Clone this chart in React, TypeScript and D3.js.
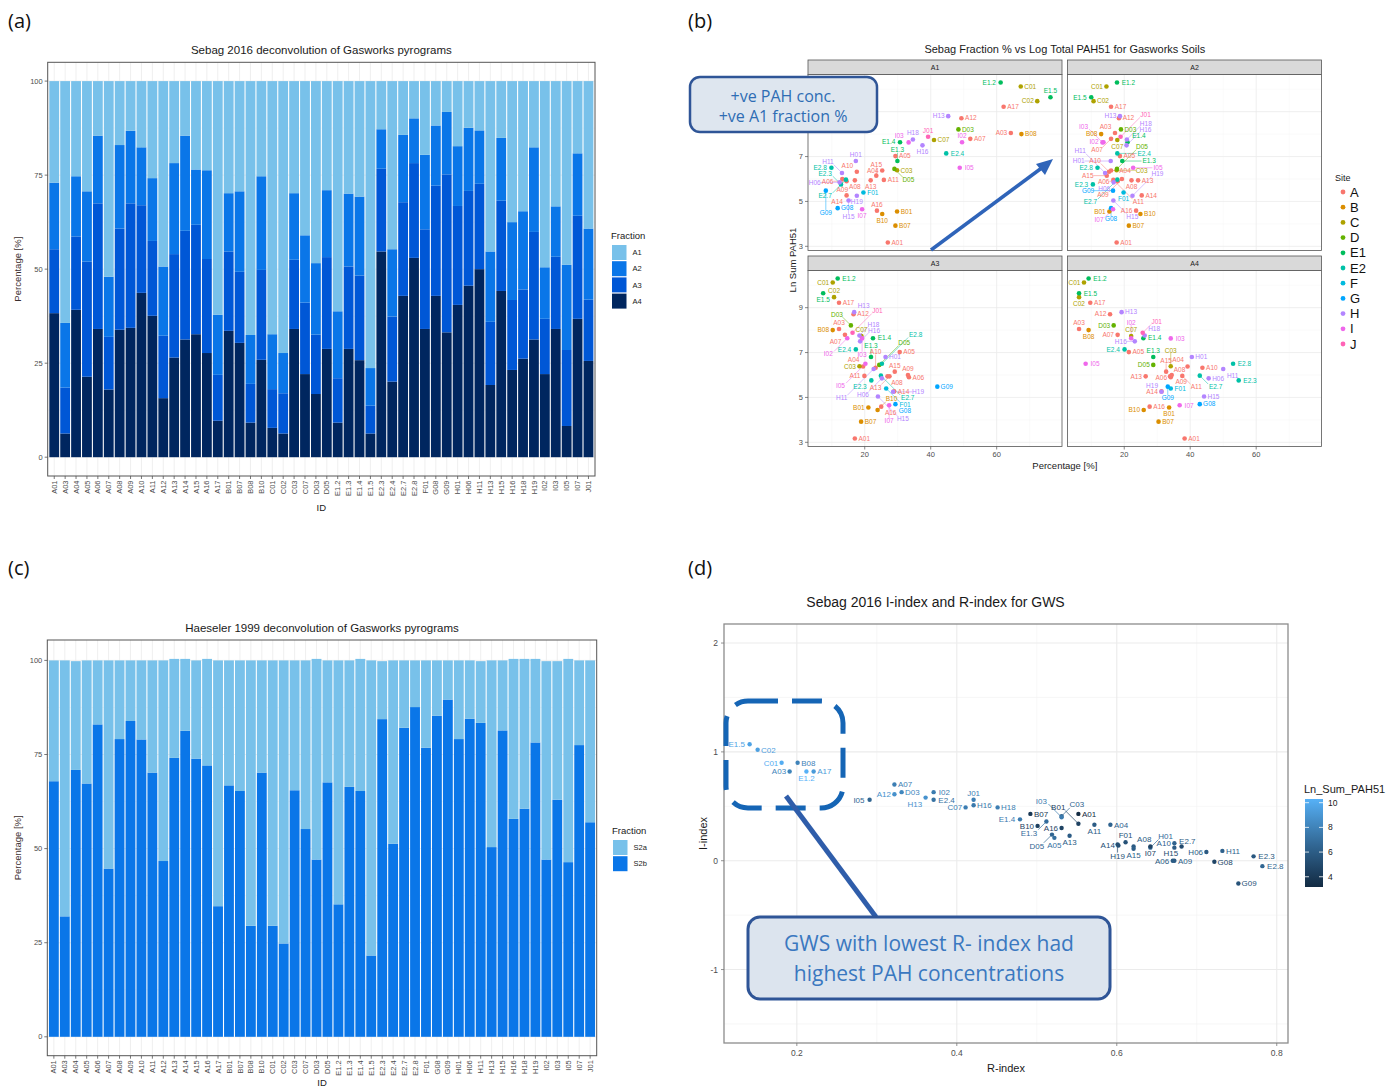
import React from 'react';
import * as d3 from 'd3';

// Sample IDs (shared by all four panels)
const ids = ['A01', 'A03', 'A04', 'A05', 'A06', 'A07', 'A08', 'A09', 'A10', 'A11', 'A12', 'A13', 'A14', 'A15', 'A16', 'A17',
  'B01', 'B07', 'B08', 'B10', 'C01', 'C02', 'C03', 'C07', 'D03', 'D05', 'E1.2', 'E1.3', 'E1.4', 'E1.5', 'E2.3', 'E2.4', 'E2.7', 'E2.8',
  'F01', 'G08', 'G09', 'H01', 'H06', 'H11', 'H13', 'H15', 'H16', 'H18', 'H19', 'I02', 'I03', 'I05', 'I07', 'J01'];

// Sebag 2016 fractions [%]
const fracA1 = [27.0, 64.3, 25.3, 29.3, 14.5, 52.0, 17.0, 13.2, 17.6, 25.8, 49.3, 21.8, 14.5, 23.5, 23.7, 62.1,
  29.8, 29.3, 67.5, 25.3, 67.3, 72.3, 29.8, 41.0, 48.4, 29.0, 61.2, 29.9, 30.7, 76.3, 12.8, 44.7, 14.3, 9.9,
  19.6, 11.8, 8.2, 17.3, 12.4, 13.1, 45.3, 15.1, 37.5, 34.6, 17.6, 49.5, 33.3, 48.8, 19.2, 39.2];
const fracA2 = [17.7, 17.2, 16.0, 18.7, 18.0, 16.0, 22.2, 19.3, 15.4, 16.7, 18.4, 24.2, 25.3, 14.7, 23.6, 16.0,
  15.5, 21.4, 13.0, 24.9, 14.6, 10.7, 17.7, 17.9, 19.0, 17.8, 17.8, 19.4, 21.0, 10.0, 10.5, 17.9, 17.9, 11.9,
  19.8, 16.0, 16.6, 15.9, 16.8, 14.2, 18.7, 16.7, 20.7, 20.8, 22.5, 13.7, 13.4, 22.7, 16.6, 18.9];
const fracA3 = [17.0, 12.2, 19.5, 30.6, 33.4, 14.0, 26.9, 33.1, 23.3, 19.9, 16.6, 27.5, 28.9, 29.1, 25.0, 12.2,
  21.1, 18.9, 10.3, 23.9, 10.3, 10.7, 18.4, 19.0, 15.8, 24.4, 11.8, 21.9, 22.5, 7.4, 22.0, 17.3, 24.9, 25.2,
  26.5, 29.3, 42.0, 26.3, 25.2, 22.7, 16.8, 24.0, 18.6, 18.4, 28.6, 14.7, 19.2, 20.2, 27.4, 16.3];
const fracA4 = [38.3, 6.3, 39.2, 21.4, 34.1, 18.0, 33.9, 34.4, 43.7, 37.6, 15.7, 26.5, 31.3, 32.7, 27.7, 9.7,
  33.6, 30.4, 9.2, 25.9, 7.8, 6.3, 34.1, 22.1, 16.8, 28.8, 9.2, 28.8, 25.8, 6.3, 54.7, 20.1, 42.9, 53.0,
  34.1, 42.9, 33.2, 40.5, 45.6, 50.0, 19.2, 44.2, 23.2, 26.2, 31.3, 22.1, 34.1, 8.3, 36.8, 25.6];

// Haeseler 1999 fractions [%]
const fracS2a = [32.1, 68.0, 28.9, 32.7, 17.0, 55.3, 20.9, 16.1, 21.0, 29.8, 53.3, 26.3, 19.1, 26.1, 28.3, 65.3,
  33.2, 34.7, 70.5, 29.8, 70.5, 75.2, 34.5, 44.8, 53.3, 32.4, 64.8, 33.6, 35.1, 78.4, 15.4, 48.7, 17.9, 12.4,
  23.2, 14.7, 10.4, 20.9, 15.5, 16.4, 49.6, 18.6, 42.5, 39.8, 22.2, 52.7, 36.8, 54.0, 22.5, 43.0];
const fracS2b = [67.9, 32.0, 70.9, 67.3, 83.0, 44.7, 79.1, 83.9, 79.0, 70.2, 46.7, 74.1, 81.3, 73.9, 72.1, 34.7,
  66.8, 65.3, 29.5, 70.2, 29.5, 24.8, 65.5, 55.2, 47.1, 67.6, 35.2, 66.4, 65.3, 21.6, 84.4, 51.3, 82.1, 87.6,
  76.8, 85.3, 89.6, 79.1, 84.5, 83.4, 50.4, 81.4, 57.9, 60.6, 78.2, 47.1, 63.0, 46.4, 77.5, 57.0];

// Ln of total PAH51
const lnSumPAH51 = [3.17, 8.05, 6.38, 7.02, 5.90, 7.79, 5.94, 6.00, 6.32, 5.96, 8.71, 5.94, 5.27, 6.15, 4.59, 9.22,
  4.55, 3.92, 8.00, 4.44, 10.12, 9.47, 6.39, 7.74, 8.21, 6.45, 10.30, 6.80, 7.64, 9.64, 5.76, 7.14, 5.97, 6.50,
  5.40, 4.70, 5.48, 6.80, 5.85, 6.27, 8.80, 5.04, 7.50, 7.76, 5.25, 7.64, 7.63, 6.50, 4.65, 7.88];

// Sebag 2016 R-index and I-index
const rIndex = [0.552, 0.191, 0.592, 0.522, 0.670, 0.322, 0.621, 0.672, 0.672, 0.572, 0.322, 0.541, 0.602, 0.621, 0.531, 0.221,
  0.552, 0.492, 0.201, 0.501, 0.181, 0.151, 0.531, 0.411, 0.331, 0.519, 0.212, 0.512, 0.479, 0.141, 0.771, 0.371, 0.672, 0.782,
  0.611, 0.722, 0.752, 0.642, 0.712, 0.732, 0.361, 0.681, 0.421, 0.451, 0.601, 0.371, 0.531, 0.291, 0.642, 0.421];
const iIndex = [0.43, 0.82, 0.33, 0.21, 0.0, 0.70, 0.13, 0.0, 0.16, 0.33, 0.61, 0.23, 0.14, 0.11, 0.30, 0.82,
  0.34, 0.43, 0.90, 0.32, 0.90, 1.02, 0.41, 0.49, 0.63, 0.24, 0.82, 0.36, 0.38, 1.07, 0.04, 0.56, 0.12, -0.05,
  0.17, -0.01, -0.21, 0.12, 0.08, 0.09, 0.58, 0.13, 0.51, 0.49, 0.15, 0.63, 0.40, 0.56, 0.13, 0.56];
const iLimits = [-1.5, 2];

const sebagKeys = ['A1', 'A2', 'A3', 'A4'];
const haeselerKeys = ['S2a', 'S2b'];
const sites = ['A', 'B', 'C', 'D', 'E1', 'E2', 'F', 'G', 'H', 'I', 'J'];
const pctTicks = [0, 25, 50, 75, 100];

const sebagColors = ['#78C1EA', '#0A76E8', '#0057D6', '#00265F'];
const haeselerColors = ['#78C1EA', '#0A76E8'];
const siteColors = ['#F8766D', '#DB8E00', '#AEA200', '#64B200', '#00BD5C', '#00C1A7', '#00BADE', '#00A6FF', '#B385FF', '#EF67EB', '#FF63B6'];

const FONT = '"Liberation Sans", Arial, sans-serif';
const CALLOUT = '"Open Sans", "Noto Sans", sans-serif';
const siteOf = (id: string) => (id.startsWith('E') ? id.slice(0, 2) : id[0]);
const siteColor = d3.scaleOrdinal<string, string>().domain(sites).range(siteColors);

type Box = { x0: number; y0: number; x1: number; y1: number };
type Pt = { x: number; y: number; text: string; color: string };

// crude ggrepel: try spots round each point, keep the first free one
function repel(pts: Pt[], fs: number, b: Box, pr: number, keepAll: boolean) {
  const h = fs * 0.8;
  const taken: number[][] = [];
  const out: any[] = [];
  const dirs = [[1, 0], [-1, 0], [0, -1], [0, 1], [1, -1], [1, 1], [-1, -1], [-1, 1]];
  const dists = [1.5, 6, 11, 17, 24];
  pts.forEach((p) => {
    const w = p.text.length * fs * 0.58;
    let best: number[] | null = null;
    let bestD = 0;
    for (const dist of dists) {
      for (const [dx, dy] of dirs) {
        const cx = p.x + dx * (pr + dist + w / 2);
        const cy = p.y + dy * (pr + dist + h / 2);
        const bx = [cx - w / 2, cy - h / 2, cx + w / 2, cy + h / 2];
        if (bx[0] < b.x0 || bx[2] > b.x1 || bx[1] < b.y0 || bx[3] > b.y1) continue;
        if (taken.some((t) => bx[0] < t[2] + 0.5 && bx[2] > t[0] - 0.5 && bx[1] < t[3] + 0.5 && bx[3] > t[1] - 0.5)) continue;
        if (pts.some((q) => q.x + pr > bx[0] && q.x - pr < bx[2] && q.y + pr > bx[1] && q.y - pr < bx[3])) continue;
        best = bx;
        bestD = dist;
        break;
      }
      if (best) break;
    }
    if (!best && keepAll) {
      best = [p.x + pr + 1.5, p.y - h / 2, p.x + pr + 1.5 + w, p.y + h / 2];
    }
    if (!best) return;
    taken.push(best);
    const lx = Math.max(best[0], Math.min(p.x, best[2]));
    const ly = Math.max(best[1], Math.min(p.y, best[3]));
    out.push({ ...p, cx: (best[0] + best[2]) / 2, cy: (best[1] + best[3]) / 2, lead: bestD >= 6, lx, ly });
  });
  return out;
}

function BarPanel({ box, title, keys, values, colors, legend, idY }: any) {
  const rows = ids.map((id, i) => {
    const r: any = { id };
    keys.forEach((k: string, j: number) => (r[k] = values[j][i]));
    return r;
  });
  const maxTotal = d3.max(rows, (r: any) => d3.sum(keys, (k: string) => r[k])) as number;
  const y = d3.scaleLinear().domain([-0.05 * maxTotal, 1.05 * maxTotal]).range([box.y1, box.y0]);
  const x = d3.scalePoint<string>().domain(ids).range([box.x0, box.x1]).padding(0.6);
  const bw = x.step() * 0.9;
  const color = d3.scaleOrdinal<string, string>().domain(keys).range(colors);
  const stacked = d3.stack<any>().keys([...keys].reverse())(rows);
  const minor = pctTicks.slice(1).map((t) => t - 12.5);

  return (
    <g fontFamily={FONT}>
      <text x={(box.x0 + box.x1) / 2} y={box.y0 - 8} textAnchor="middle" fontSize={11.5} fill="#1a1a1a">{title}</text>
      <rect x={box.x0} y={box.y0} width={box.x1 - box.x0} height={box.y1 - box.y0} fill="#fff" />
      {minor.map((t) => (
        <line key={'m' + t} x1={box.x0} x2={box.x1} y1={y(t)} y2={y(t)} stroke="#F2F2F2" strokeWidth={0.5} />
      ))}
      {pctTicks.map((t) => (
        <line key={'g' + t} x1={box.x0} x2={box.x1} y1={y(t)} y2={y(t)} stroke="#EBEBEB" strokeWidth={0.8} />
      ))}
      {ids.map((id) => (
        <line key={'v' + id} x1={x(id)} x2={x(id)} y1={box.y0} y2={box.y1} stroke="#EBEBEB" strokeWidth={0.8} />
      ))}
      {stacked.map((s) => (
        <g key={s.key} fill={color(s.key)}>
          {s.map((d: any) => (
            <rect key={d.data.id} x={(x(d.data.id) as number) - bw / 2} width={bw} y={y(d[1])} height={y(d[0]) - y(d[1])} />
          ))}
        </g>
      ))}
      <rect x={box.x0} y={box.y0} width={box.x1 - box.x0} height={box.y1 - box.y0} fill="none" stroke="#555" strokeWidth={1} />
      {pctTicks.map((t) => (
        <g key={'t' + t}>
          <line x1={box.x0 - 3} x2={box.x0} y1={y(t)} y2={y(t)} stroke="#555" strokeWidth={0.8} />
          <text x={box.x0 - 5} y={y(t)} dy="0.35em" textAnchor="end" fontSize={7.5} fill="#4D4D4D">{t}</text>
        </g>
      ))}
      {ids.map((id) => (
        <g key={'x' + id}>
          <line x1={x(id)} x2={x(id)} y1={box.y1} y2={box.y1 + 3} stroke="#555" strokeWidth={0.8} />
          <text transform={`translate(${x(id)},${box.y1 + 4.5}) rotate(-90)`} dy="0.35em" textAnchor="end" fontSize={7.5} fill="#4D4D4D">{id}</text>
        </g>
      ))}
      <text x={(box.x0 + box.x1) / 2} y={idY} textAnchor="middle" fontSize={9.5} fill="#1a1a1a">ID</text>
      <text transform={`translate(21,${(box.y0 + box.y1) / 2}) rotate(-90)`} textAnchor="middle" fontSize={9.5} fill="#3a2e2e">Percentage [%]</text>
      <text x={legend.x - 1} y={legend.y} fontSize={9.5} fill="#1a1a1a">Fraction</text>
      {keys.map((k: string, i: number) => (
        <g key={'l' + k}>
          <rect x={legend.x} y={legend.y + 6 + i * 16.2} width={14.5} height={15} fill={color(k)} />
          <text x={legend.x + 20.5} y={legend.y + 13.5 + i * 16.2} dy="0.35em" fontSize={7.5} fill="#1a1a1a">{k}</text>
        </g>
      ))}
    </g>
  );
}

function FacetPanel() {
  const fracs = [fracA1, fracA2, fracA3, fracA4];
  const [xmin, xmax] = d3.extent(fracs.flat()) as [number, number];
  const xDom = [xmin - 0.05 * (xmax - xmin), xmax + 0.05 * (xmax - xmin)];
  const [ymin, ymax] = d3.extent(lnSumPAH51) as [number, number];
  const yDom = [ymin - 0.05 * (ymax - ymin), ymax + 0.05 * (ymax - ymin)];
  const xMajor = [20, 40, 60];
  const xMinor = [10, 30, 50, 70];
  const yMajor = [3, 5, 7, 9];
  const yMinor = [4, 6, 8, 10];

  return (
    <g fontFamily={FONT}>
      <text x={1064.8} y={53} textAnchor="middle" fontSize={11} fill="#1a1a1a">Sebag Fraction % vs Log Total PAH51 for Gasworks Soils</text>
      {sebagKeys.map((f, fi) => {
        const col = fi % 2;
        const row = Math.floor(fi / 2);
        const px0 = 808 + col * 259.5;
        const px1 = px0 + 254;
        const sy0 = 60 + row * 196;
        const py0 = sy0 + 14.5;
        const py1 = py0 + 176;
        const x = d3.scaleLinear().domain(xDom).range([px0, px1]);
        const y = d3.scaleLinear().domain(yDom).range([py1, py0]);
        const pts: Pt[] = ids.map((id, i) => ({ x: x(fracs[fi][i]), y: y(lnSumPAH51[i]), text: id, color: siteColor(siteOf(id)) }));
        const labels = repel(pts, 6.5, { x0: px0 + 1, y0: py0 + 1, x1: px1 - 1, y1: py1 - 1 }, 2.3, false);
        // the top-left tick label sits under the callout box in the original
        const yLabelTicks = row === 0 ? yMajor.filter((t) => y(t) > 136) : yMajor;
        return (
          <g key={f}>
            <rect x={px0} y={py0} width={254} height={176} fill="#fff" />
            {xMinor.map((t) => <line key={'xm' + t} x1={x(t)} x2={x(t)} y1={py0} y2={py1} stroke="#F4F4F4" strokeWidth={0.5} />)}
            {yMinor.filter((t) => t < yDom[1]).map((t) => <line key={'ym' + t} x1={px0} x2={px1} y1={y(t)} y2={y(t)} stroke="#F4F4F4" strokeWidth={0.5} />)}
            {xMajor.map((t) => <line key={'xg' + t} x1={x(t)} x2={x(t)} y1={py0} y2={py1} stroke="#EBEBEB" strokeWidth={0.8} />)}
            {yMajor.map((t) => <line key={'yg' + t} x1={px0} x2={px1} y1={y(t)} y2={y(t)} stroke="#EBEBEB" strokeWidth={0.8} />)}
            {labels.filter((l) => l.lead).map((l) => (
              <line key={'ld' + l.text} x1={l.x} y1={l.y} x2={l.lx} y2={l.ly} stroke={l.color} strokeWidth={0.5} />
            ))}
            {pts.map((p) => <circle key={p.text} cx={p.x} cy={p.y} r={2.3} fill={p.color} />)}
            {labels.map((l) => (
              <text key={'lb' + l.text} x={l.cx} y={l.cy} dy="0.35em" textAnchor="middle" fontSize={6.5} fill={l.color}>{l.text}</text>
            ))}
            <rect x={px0} y={py0} width={254} height={176} fill="none" stroke="#555" strokeWidth={0.8} />
            <rect x={px0} y={sy0} width={254} height={14.5} fill="#D9D9D9" stroke="#555" strokeWidth={0.8} />
            <text x={(px0 + px1) / 2} y={sy0 + 7.5} dy="0.35em" textAnchor="middle" fontSize={7} fill="#1a1a1a">{f}</text>
            {col === 0 && yMajor.map((t) => (
              <line key={'ytm' + t} x1={px0 - 3} x2={px0} y1={y(t)} y2={y(t)} stroke="#555" strokeWidth={0.7} />
            ))}
            {col === 0 && yLabelTicks.map((t) => (
              <text key={'yt' + t} x={px0 - 5} y={y(t)} dy="0.35em" textAnchor="end" fontSize={7.5} fill="#4D4D4D">{t}</text>
            ))}
            {row === 1 && xMajor.map((t) => (
              <g key={'xt' + t}>
                <line x1={x(t)} x2={x(t)} y1={py1} y2={py1 + 3} stroke="#555" strokeWidth={0.7} />
                <text x={x(t)} y={py1 + 10} textAnchor="middle" fontSize={7.5} fill="#4D4D4D">{t}</text>
              </g>
            ))}
          </g>
        );
      })}
      <text x={1064.8} y={469} textAnchor="middle" fontSize={9.5} fill="#1a1a1a">Percentage [%]</text>
      <text transform="translate(796,260) rotate(-90)" textAnchor="middle" fontSize={9.5} fill="#1a1a1a">Ln Sum PAH51</text>
      <text x={1335} y={181} fontSize={9} fill="#1a1a1a">Site</text>
      {sites.map((s, i) => (
        <g key={'s' + s}>
          <circle cx={1343} cy={192 + i * 15.2} r={2.4} fill={siteColor(s)} />
          <text x={1350} y={192 + i * 15.2} dy="0.36em" fontSize={13} fill="#111">{s}</text>
        </g>
      ))}
    </g>
  );
}

function IndexPanel() {
  const box = { x0: 724, y0: 624, x1: 1288, y1: 1043 };
  const [rmin, rmax] = d3.extent(rIndex) as [number, number];
  const x = d3.scaleLinear().domain([rmin - 0.05 * (rmax - rmin), rmax + 0.05 * (rmax - rmin)]).range([box.x0, box.x1]);
  const ir = iLimits[1] - iLimits[0];
  const y = d3.scaleLinear().domain([iLimits[0] - 0.05 * ir, iLimits[1] + 0.05 * ir]).range([box.y1, box.y0]);
  const lnExt = d3.extent(lnSumPAH51) as [number, number];
  const col = d3.scaleLinear<string>().domain(lnExt).range(['#132B43', '#56B1F7']).interpolate(d3.interpolateLab);
  const xMajor = [0.2, 0.4, 0.6, 0.8];
  const xMinor = [0.3, 0.5, 0.7];
  const yMajor = [-1, 0, 1, 2];
  const yMinor = [-1.5, -0.5, 0.5, 1.5];
  const pts: Pt[] = ids.map((id, i) => ({ x: x(rIndex[i]), y: y(iIndex[i]), text: id, color: col(lnSumPAH51[i]) }));
  const labels = repel(pts, 8, { x0: box.x0 + 2, y0: box.y0 + 2, x1: box.x1 - 2, y1: box.y1 - 2 }, 2.2, true);
  const cb = d3.scaleLinear().domain(lnExt).range([887, 799]);

  return (
    <g fontFamily={FONT}>
      <text x={935.5} y={607} textAnchor="middle" fontSize={14} fill="#1a1a1a">Sebag 2016 I-index and R-index for GWS</text>
      {xMinor.map((t) => <line key={'xm' + t} x1={x(t)} x2={x(t)} y1={box.y0} y2={box.y1} stroke="#F4F4F4" strokeWidth={0.7} />)}
      {yMinor.map((t) => <line key={'ym' + t} x1={box.x0} x2={box.x1} y1={y(t)} y2={y(t)} stroke="#F4F4F4" strokeWidth={0.7} />)}
      {xMajor.map((t) => <line key={'xg' + t} x1={x(t)} x2={x(t)} y1={box.y0} y2={box.y1} stroke="#EBEBEB" strokeWidth={1.1} />)}
      {yMajor.map((t) => <line key={'yg' + t} x1={box.x0} x2={box.x1} y1={y(t)} y2={y(t)} stroke="#EBEBEB" strokeWidth={1.1} />)}
      <rect x={box.x0} y={box.y0} width={box.x1 - box.x0} height={box.y1 - box.y0} fill="none" stroke="#8C8C8C" strokeWidth={1.3} />
      {labels.filter((l) => l.lead).map((l) => (
        <line key={'ld' + l.text} x1={l.x} y1={l.y} x2={l.lx} y2={l.ly} stroke={l.color} strokeWidth={0.7} />
      ))}
      {pts.map((p) => <circle key={p.text} cx={p.x} cy={p.y} r={2.2} fill={p.color} />)}
      {labels.map((l) => (
        <text key={'lb' + l.text} x={l.cx} y={l.cy} dy="0.35em" textAnchor="middle" fontSize={8} fill={l.color}>{l.text}</text>
      ))}
      {yMajor.map((t) => (
        <g key={'yt' + t}>
          <line x1={box.x0 - 3} x2={box.x0} y1={y(t)} y2={y(t)} stroke="#777" strokeWidth={0.8} />
          <text x={box.x0 - 6} y={y(t)} dy="0.35em" textAnchor="end" fontSize={8.5} fill="#4D4D4D">{t}</text>
        </g>
      ))}
      {xMajor.map((t) => (
        <g key={'xt' + t}>
          <line x1={x(t)} x2={x(t)} y1={box.y1} y2={box.y1 + 3} stroke="#777" strokeWidth={0.8} />
          <text x={x(t)} y={box.y1 + 13} textAnchor="middle" fontSize={8.5} fill="#4D4D4D">{t}</text>
        </g>
      ))}
      <text x={(box.x0 + box.x1) / 2} y={1072} textAnchor="middle" fontSize={11} fill="#1a1a1a">R-index</text>
      <text transform={`translate(707,${(box.y0 + box.y1) / 2}) rotate(-90)`} textAnchor="middle" fontSize={11} fill="#1a1a1a">I-index</text>
      <defs>
        <linearGradient id="pahGrad" x1="0" y1="1" x2="0" y2="0">
          {d3.range(0, 1.001, 0.1).map((f) => (
            <stop key={f} offset={f} stopColor={col(lnExt[0] + f * (lnExt[1] - lnExt[0]))} />
          ))}
        </linearGradient>
      </defs>
      <text x={1304} y={793} fontSize={11} fill="#1a1a1a">Ln_Sum_PAH51</text>
      <rect x={1305} y={799} width={18} height={88} fill="url(#pahGrad)" />
      {[4, 6, 8, 10].map((t) => (
        <g key={'cb' + t}>
          <line x1={1305} x2={1309} y1={cb(t)} y2={cb(t)} stroke="#fff" strokeWidth={0.8} />
          <line x1={1319} x2={1323} y1={cb(t)} y2={cb(t)} stroke="#fff" strokeWidth={0.8} />
          <text x={1328} y={cb(t)} dy="0.35em" fontSize={8.5} fill="#1a1a1a">{t}</text>
        </g>
      ))}
    </g>
  );
}

export default function App() {
  return (
    <svg width={1394} height={1088} style={{ position: 'absolute', left: 0, top: 0, background: '#fff' }}>
      <rect width={1394} height={1088} fill="#fff" />
      <BarPanel box={{ x0: 47.7, y0: 62.3, x1: 595, y1: 476 }} title="Sebag 2016 deconvolution of Gasworks pyrograms"
        keys={sebagKeys} values={[fracA1, fracA2, fracA3, fracA4]} colors={sebagColors} legend={{ x: 612, y: 239 }} idY={511} />
      <BarPanel box={{ x0: 47.3, y0: 640, x1: 596.7, y1: 1055.7 }} title="Haeseler 1999 deconvolution of Gasworks pyrograms"
        keys={haeselerKeys} values={[fracS2a, fracS2b]} colors={haeselerColors} legend={{ x: 613, y: 834 }} idY={1086} />
      <FacetPanel />
      <IndexPanel />

      {/* callouts */}
      <rect x={690} y={77} width={187} height={55} rx={10} fill="#DEE6EF" stroke="#2F5597" strokeWidth={2.5} />
      <text x={783} y={96} dy="0.35em" textAnchor="middle" fontFamily={CALLOUT} fontSize={16} fill="#2E6DB4">+ve PAH conc.</text>
      <text x={783} y={116} dy="0.35em" textAnchor="middle" fontFamily={CALLOUT} fontSize={16} fill="#2E6DB4">+ve A1 fraction %</text>
      <line x1={931} y1={250} x2={1043} y2={167} stroke="#2F64B9" strokeWidth={3.5} />
      <polygon points="1053,159 1036,164 1045,175" fill="#2F64B9" />

      <rect x={726} y={701} width={117} height={107} rx={22} fill="none" stroke="#1565B5" strokeWidth={5} strokeDasharray="30 14" />
      <line x1={786} y1={796} x2={876} y2={917} stroke="#2F5DAA" strokeWidth={5} />
      <rect x={748} y={917} width={362} height={82} rx={12} fill="#DCE4EE" stroke="#2F5597" strokeWidth={3} />
      <text x={929} y={944} dy="0.35em" textAnchor="middle" fontFamily={CALLOUT} fontSize={21} fill="#3A78C0">GWS with lowest R- index had</text>
      <text x={929} y={974} dy="0.35em" textAnchor="middle" fontFamily={CALLOUT} fontSize={21} fill="#3A78C0">highest PAH concentrations</text>

      {/* panel tags */}
      <g fontFamily={CALLOUT} fontSize={20} fill="#111">
        <text x={8} y={28}>(a)</text>
        <text x={688} y={28}>(b)</text>
        <text x={8} y={575}>(c)</text>
        <text x={688} y={575}>(d)</text>
      </g>
    </svg>
  );
}
